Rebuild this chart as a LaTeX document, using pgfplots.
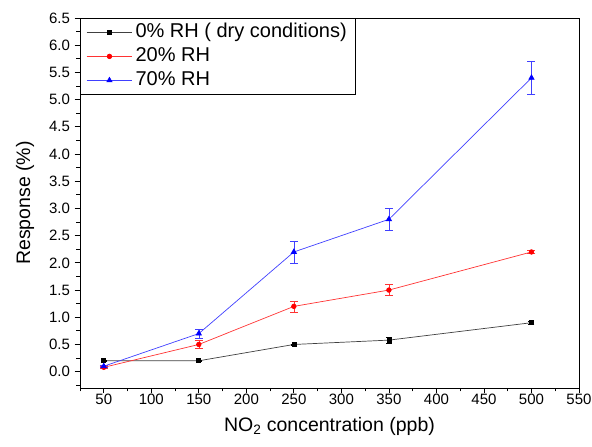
\documentclass[border=0pt]{standalone}
\usepackage{pgfplots}
\pgfplotsset{compat=1.18}
\usepackage{fontspec}
\setmainfont{Liberation Sans}
\begin{document}
\begin{tikzpicture}
\begin{axis}[
  name=ax,
  scale only axis,
  width=499pt, height=370pt,
  xmin=25, xmax=550, ymin=-0.3, ymax=6.5,
  xtick={50,100,...,550},
  minor xtick={25,75,...,525},
  ytick={0,0.5,...,6.5},
  minor ytick={-0.25,0.25,...,6.25},
  tick pos=left,
  tick align=outside,
  major tick length=5.5pt, minor tick length=3.5pt,
  every tick/.style={black, line width=0.8pt},
  axis line style={line width=0.9pt},
  yticklabel style={/pgf/number format/fixed, /pgf/number format/fixed zerofill, /pgf/number format/precision=1, xshift=-1pt},
  /pgf/number format/assume math mode=true,
  ticklabel style={font=\fontsize{15}{17}\selectfont},
  xticklabel style={yshift=3pt},
  xlabel={NO\textsubscript{2} concentration (ppb)},
  ylabel={Response (\%)},
  xlabel style={at={(axis description cs:0.5,-0.105)}, anchor=center, font=\fontsize{19.5}{22}\selectfont},
  ylabel style={at={(axis description cs:-0.110,0.5)}, anchor=center, rotate=0, font=\fontsize{19.5}{22}\selectfont},
  legend style={at={(0,1)}, anchor=north west, font=\fontsize{20}{23}\selectfont,
    draw=black, line width=0.8pt, inner xsep=6pt, inner ysep=2pt,
    nodes={inner ysep=2.5pt, text depth=4.5pt, text height=14.5pt, inner xsep=3pt},
    legend cell align=left},
  legend image code/.code={\draw[#1, line width=0.6pt] (0cm,0cm) -- (1.6cm,0cm); \draw[#1, only marks] plot coordinates {(0.8cm,0cm)};},
]
\addplot[black!75, line width=0.7pt, mark=square*, mark size=2pt,
  mark options={black, fill=black},
  error bars/.cd, y dir=both, y explicit, error bar style={black, line width=0.6pt}, error mark options={rotate=90, mark size=3pt, black}]
  coordinates {(50,0.2) +- (0,0.01) (150,0.2) +- (0,0.01) (250,0.5) +- (0,0.01) (350,0.58) +- (0,0.05) (500,0.9) +- (0,0.02)};
\addlegendentry{0\% RH ( dry conditions)}
\addplot[red!80, line width=0.7pt, mark=*, mark size=2.3pt,
  mark options={red, fill=red},
  error bars/.cd, y dir=both, y explicit, error bar style={red!80, line width=0.6pt}, error mark options={rotate=90, mark size=4pt, red!80}]
  coordinates {(50,0.08) +- (0,0.02) (150,0.5) +- (0,0.07) (250,1.2) +- (0,0.1) (350,1.5) +- (0,0.1) (500,2.2) +- (0,0.03)};
\addlegendentry{20\% RH}
\addplot[blue!75, line width=0.7pt, mark=triangle*, mark size=3pt,
  mark options={blue, fill=blue},
  error bars/.cd, y dir=both, y explicit, error bar style={blue!75, line width=0.6pt}, error mark options={rotate=90, mark size=4pt, blue!75}]
  coordinates {(50,0.1) +- (0,0.02) (150,0.7) +- (0,0.08) (250,2.2) +- (0,0.2) (350,2.8) +- (0,0.2) (500,5.4) +- (0,0.3)};
\addlegendentry{70\% RH}
\end{axis}
\pgfresetboundingbox
\path (ax.south west) ++(-80pt,-59pt) (ax.north east) ++(13pt,18pt);
\end{tikzpicture}
\end{document}
